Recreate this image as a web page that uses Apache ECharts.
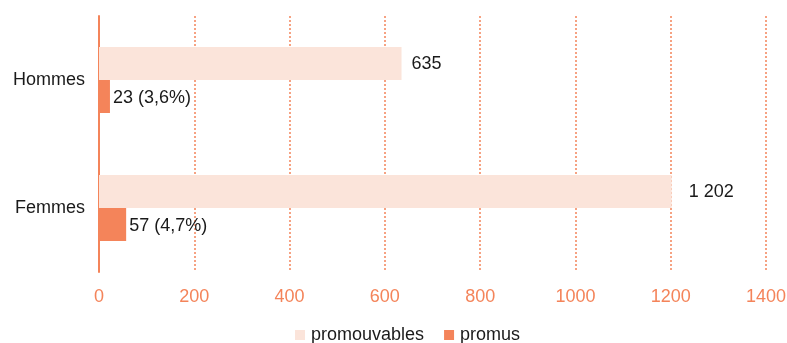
<!DOCTYPE html>
<html><head><meta charset="utf-8">
<script src="https://cdn.jsdelivr.net/npm/echarts@6/dist/echarts.min.js"></script>
<style>html,body{margin:0;padding:0;background:#fff}#c{width:787px;height:343px}</style>
</head><body><div id="c"></div>
<script>
var categories = ['Hommes', 'Femmes'];
var promouvables = [635, 1202];
var promus = [23, 57];
var promusLabels = ['23 (3,6%)', '57 (4,7%)'];
var promouvablesLabels = ['635', '1 202'];
var xTicks = [0, 200, 400, 600, 800, 1000, 1200, 1400];

var chart = echarts.init(document.getElementById('c'));
var font = "'Liberation Sans', Arial, sans-serif";
chart.setOption({
  animation: false,
  grid: {left: 99, right: 21, top: 16, bottom: 71, outerBoundsMode: 'none', containLabel: false},
  legend: {
    top: 321, left: 290, itemWidth: 10, itemHeight: 10, itemGap: 20,
    icon: 'rect',
    textStyle: {fontFamily: font, fontSize: 18, color: '#1a1a1a', padding: [0, 0, 0, 1]},
    data: ['promouvables', 'promus']
  },
  xAxis: {
    type: 'value', min: 0, max: 1400, interval: 200,
    axisLine: {show: false}, axisTick: {show: false},
    splitLine: {lineStyle: {color: '#F4845A', type: [2, 2], width: 1.5}},
    axisLabel: {color: '#F4845A', fontFamily: font, fontSize: 18, margin: 16,
      formatter: function(v){ return xTicks.indexOf(v) >= 0 ? String(v) : ''; }}
  },
  yAxis: {
    type: 'category', data: categories, inverse: true,
    axisLine: {lineStyle: {color: '#F4845A', width: 2}},
    axisTick: {show: false},
    axisLabel: {color: '#1a1a1a', fontFamily: font, fontSize: 18, margin: 14}
  },
  series: [
    {name: 'promouvables', type: 'bar', barWidth: 33, barGap: '0%',
     data: promouvables.map(function(v, i){
       return {value: v, label: {distance: i === 0 ? 10 : 17}};
     }),
     itemStyle: {color: '#FBE4DA'},
     label: {show: true, position: 'right', offset: [0, 1], color: '#1a1a1a', fontFamily: font, fontSize: 18,
       formatter: function(p){ return promouvablesLabels[p.dataIndex]; }}},
    {name: 'promus', type: 'bar', data: promus, barWidth: 33, barGap: '0%',
     itemStyle: {color: '#F4845A'},
     label: {show: true, position: 'right', offset: [0, 2], distance: 3, color: '#1a1a1a', fontFamily: font, fontSize: 18,
       formatter: function(p){ return promusLabels[p.dataIndex]; }}}
  ]
});
</script></body></html>
